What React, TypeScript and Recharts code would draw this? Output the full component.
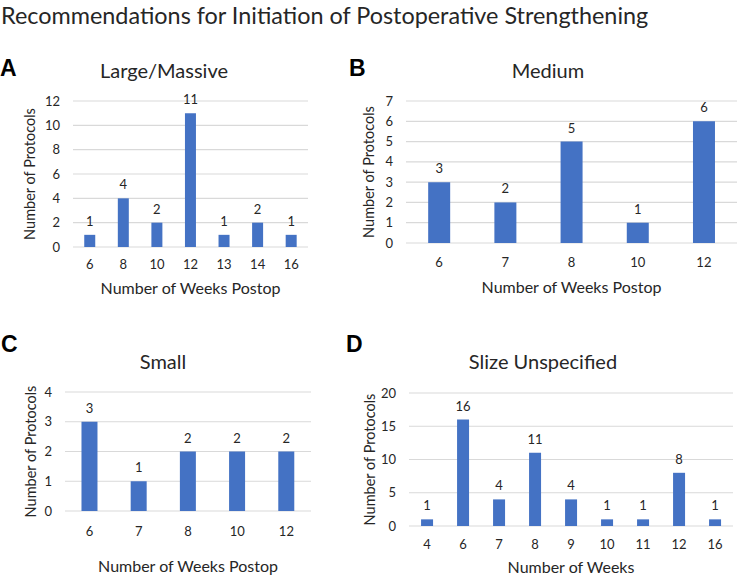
import { BarChart, Bar, XAxis, YAxis, CartesianGrid, LabelList } from 'recharts'

const mainTitle = 'Recommendations for Initiation of Postoperative Strengthening'

const weeksA = ['6', '8', '10', '12', '13', '14', '16']
const countsA = [1, 4, 2, 11, 1, 2, 1]
const ticksA = [0, 2, 4, 6, 8, 10, 12]

const weeksB = ['6', '7', '8', '10', '12']
const countsB = [3, 2, 5, 1, 6]
const ticksB = [0, 1, 2, 3, 4, 5, 6, 7]

const weeksC = ['6', '7', '8', '10', '12']
const countsC = [3, 1, 2, 2, 2]
const ticksC = [0, 1, 2, 3, 4]

const weeksD = ['4', '6', '7', '8', '9', '10', '11', '12', '16']
const countsD = [1, 16, 4, 11, 4, 1, 1, 8, 1]
const ticksD = [0, 5, 10, 15, 20]

const FONT = 'Lato, "Open Sans", sans-serif'
const TEXT = '#262626'
const BLUE = '#4472C4'
const GRID = '#d9d9d9'

interface PanelProps {
    letter: string,
    title: string,
    xTitle: string,
    weeks: string[],
    counts: number[],
    ticks: number[],
    left: number,
    top: number,
    width: number,
    height: number,
    margin: { top: number, right: number, bottom: number },
    yWidth: number,
    xTickMargin: number,
    xTitleOffset: number,
    yTitleOffset: number,
    titleX: number,
    titleY: number,
    letterX: number,
    letterY: number,
}

const Panel = (props: PanelProps) => {
    const data = props.weeks.map((w, i) => ({ week: w, count: props.counts[i] }))
    const max = props.ticks[props.ticks.length - 1]
    return (
        <>
            <div style={{ position: 'absolute', left: props.letterX, top: props.letterY, fontFamily: '"Liberation Sans", Arial, sans-serif', fontWeight: 'bold', fontSize: 23, lineHeight: '24px', color: '#000' }}>
                {props.letter}
            </div>
            <div style={{ position: 'absolute', left: props.titleX - 150, top: props.titleY - 13, width: 300, textAlign: 'center', fontFamily: FONT, fontSize: 20, lineHeight: '26px', color: TEXT }}>
                {props.title}
            </div>
            <div style={{ position: 'absolute', left: props.left, top: props.top }}>
                <BarChart width={props.width} height={props.height} data={data}
                    margin={{ top: props.margin.top, right: props.margin.right, bottom: props.margin.bottom, left: 0 }}
                    barCategoryGap="33.5%">
                    <CartesianGrid vertical={false} stroke={GRID} strokeWidth={1.2} />
                    <XAxis dataKey="week" axisLine={false} tickLine={false} tickSize={0} tickMargin={props.xTickMargin}
                        tick={{ fill: TEXT, fontSize: 13, fontFamily: FONT }} interval={0}
                        label={{ value: props.xTitle, position: 'bottom', offset: props.xTitleOffset, fill: TEXT, fontSize: 16, fontFamily: FONT }} />
                    <YAxis width={props.yWidth} domain={[0, max]} ticks={props.ticks} interval={0} axisLine={false} tickLine={false}
                        tickSize={0} tickMargin={13} tick={{ fill: TEXT, fontSize: 13, fontFamily: FONT }}
                        label={{ value: 'Number of Protocols', angle: -90, position: 'insideLeft', offset: props.yTitleOffset, fill: TEXT, fontSize: 14.5, fontFamily: FONT, style: { textAnchor: 'middle' } }} />
                    <Bar dataKey="count" fill={BLUE} isAnimationActive={false}>
                        <LabelList dataKey="count" position="top" offset={9} fill={TEXT} fontSize={13} fontFamily={FONT} />
                    </Bar>
                </BarChart>
            </div>
        </>
    )
}

const App = () => {
    return (
        <div style={{ position: 'absolute', left: 0, top: 0, width: 738, height: 579, background: '#fff', overflow: 'hidden' }}>
            <div style={{ position: 'absolute', left: 1, top: 0, fontFamily: FONT, fontSize: 23.4, lineHeight: '30px', color: TEXT, whiteSpace: 'nowrap' }}>
                {mainTitle}
            </div>
            <Panel letter="A" title="Large/Massive" xTitle="Number of Weeks Postop"
                weeks={weeksA} counts={countsA} ticks={ticksA}
                left={0} top={90} width={368} height={210} margin={{ top: 11, right: 60, bottom: 23 }}
                yWidth={73} xTickMargin={13} xTitleOffset={6} yTitleOffset={30}
                titleX={164} titleY={70} letterX={0} letterY={56} />
            <Panel letter="B" title="Medium" xTitle="Number of Weeks Postop"
                weeks={weeksB} counts={countsB} ticks={ticksB}
                left={350} top={90} width={388} height={210} margin={{ top: 11, right: 1, bottom: 27 }}
                yWidth={56} xTickMargin={15} xTitleOffset={9} yTitleOffset={19}
                titleX={548} titleY={70} letterX={349} letterY={56} />
            <Panel letter="C" title="Small" xTitle="Number of Weeks Postop"
                weeks={weeksC} counts={countsC} ticks={ticksC}
                left={0} top={370} width={368} height={209} margin={{ top: 22, right: 57, bottom: 38 }}
                yWidth={65} xTickMargin={16} xTitleOffset={20} yTitleOffset={31}
                titleX={163} titleY={361} letterX={1} letterY={332} />
            <Panel letter="D" title="Slize Unspecified" xTitle="Number of Weeks"
                weeks={weeksD} counts={countsD} ticks={ticksD}
                left={350} top={370} width={388} height={209} margin={{ top: 23, right: 5, bottom: 23 }}
                yWidth={59} xTickMargin={14} xTitleOffset={6} yTitleOffset={20}
                titleX={543} titleY={361} letterX={346} letterY={332} />
        </div>
    )
}

export default App
